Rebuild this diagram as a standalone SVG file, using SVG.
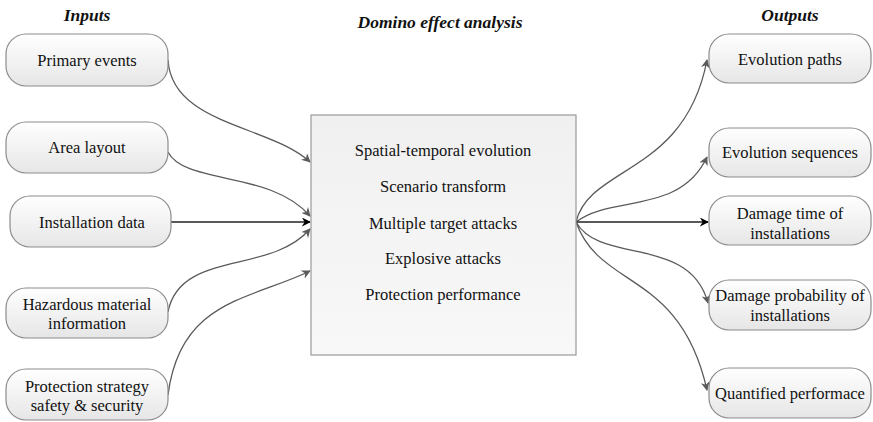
<svg xmlns="http://www.w3.org/2000/svg" width="873" height="422" viewBox="0 0 873 422">
<defs>
<linearGradient id="ng" x1="0" y1="0" x2="0" y2="1">
<stop offset="0" stop-color="#ffffff"/>
<stop offset="1" stop-color="#e6e6e6"/>
</linearGradient>
<linearGradient id="mg" x1="0" y1="0" x2="0" y2="1">
<stop offset="0" stop-color="#f0f0f0"/>
<stop offset="1" stop-color="#f8f8f8"/>
</linearGradient>
<marker id="ag" viewBox="0 0 10 10" refX="9" refY="5" markerWidth="9" markerHeight="9" markerUnits="userSpaceOnUse" orient="auto">
<path d="M0,0 L10,5 L0,10 L3,5 Z" fill="#5a5a5a"/>
</marker>
<marker id="ab" viewBox="0 0 10 10" refX="9" refY="5" markerWidth="9" markerHeight="9" markerUnits="userSpaceOnUse" orient="auto">
<path d="M0,0 L10,5 L0,10 L3,5 Z" fill="#000"/>
</marker>
</defs>
<style>
.n{fill:url(#ng);stroke:#8c8c8c;stroke-width:1.2}
.m{fill:url(#mg);stroke:#9a9a9a;stroke-width:1.2}
text{font-family:"Liberation Serif","Times New Roman",serif;font-size:16.5px;fill:#111;text-anchor:middle}
.t{font-weight:bold;font-style:italic;font-size:17.5px}
.c{fill:none;stroke:#5a5a5a;stroke-width:1.3;marker-end:url(#ag)}
.s{fill:none;stroke:#222;stroke-width:1.3;marker-end:url(#ab)}
</style>
<rect width="873" height="422" fill="#fff"/>
<text class="t" x="87" y="21">Inputs</text>
<text class="t" x="440" y="28">Domino effect analysis</text>
<text class="t" x="790" y="21">Outputs</text>

<g id="connectors">
<path class="c" d="M168,60 C172,125 270,125 310,162"/>
<path class="c" d="M168,152 C185,185 270,170 310,216"/>
<path class="s" d="M171,222 L310,222"/>
<path class="c" d="M168,312 C180,250 270,275 310,229"/>
<path class="c" d="M168,395 C180,300 250,300 310,271"/>
<path class="c" d="M576,222 C590,165 685,175 707,60"/>
<path class="c" d="M576,222 C610,195 680,215 707,157"/>
<path class="s" d="M576,222 L708,222"/>
<path class="c" d="M576,222 C600,265 690,235 708,303"/>
<path class="c" d="M576,222 C600,290 680,270 707,390"/>
</g>

<g id="main">
<rect class="m" x="311" y="115" width="265" height="240"/>
<text x="443" y="156">Spatial-temporal evolution</text>
<text x="443" y="192">Scenario transform</text>
<text x="443" y="229">Multiple target attacks</text>
<text x="443" y="264">Explosive attacks</text>
<text x="443" y="300">Protection performance</text>
</g>

<g id="primary-events">
<rect class="n" x="6" y="34" width="162" height="52" rx="20"/>
<text x="87" y="66">Primary events</text>
</g>
<g id="area-layout">
<rect class="n" x="6" y="122" width="162" height="51" rx="20"/>
<text x="87" y="153">Area layout</text>
</g>
<g id="installation-data">
<rect class="n" x="10" y="196" width="161" height="51" rx="20"/>
<text x="92" y="228">Installation data</text>
</g>
<g id="hazardous-material">
<rect class="n" x="6" y="288" width="162" height="50" rx="20"/>
<text x="87" y="310">Hazardous material</text>
<text x="87" y="329">information</text>
</g>
<g id="protection-strategy">
<rect class="n" x="6" y="369" width="162" height="51" rx="20"/>
<text x="87" y="392">Protection strategy</text>
<text x="87" y="411">safety &amp; security</text>
</g>

<g id="evolution-paths">
<rect class="n" x="709" y="34" width="162" height="49" rx="20"/>
<text x="790" y="65">Evolution paths</text>
</g>
<g id="evolution-sequences">
<rect class="n" x="709" y="128" width="162" height="49" rx="20"/>
<text x="790" y="158">Evolution sequences</text>
</g>
<g id="damage-time">
<rect class="n" x="709" y="196" width="162" height="49" rx="20"/>
<text x="790" y="219">Damage time of</text>
<text x="790" y="239">installations</text>
</g>
<g id="damage-probability">
<rect class="n" x="709" y="280" width="162" height="50" rx="20"/>
<text x="790" y="301">Damage probability of</text>
<text x="790" y="321">installations</text>
</g>
<g id="quantified-performance">
<rect class="n" x="709" y="368" width="162" height="50" rx="20"/>
<text x="790" y="399">Quantified performace</text>
</g>
</svg>
